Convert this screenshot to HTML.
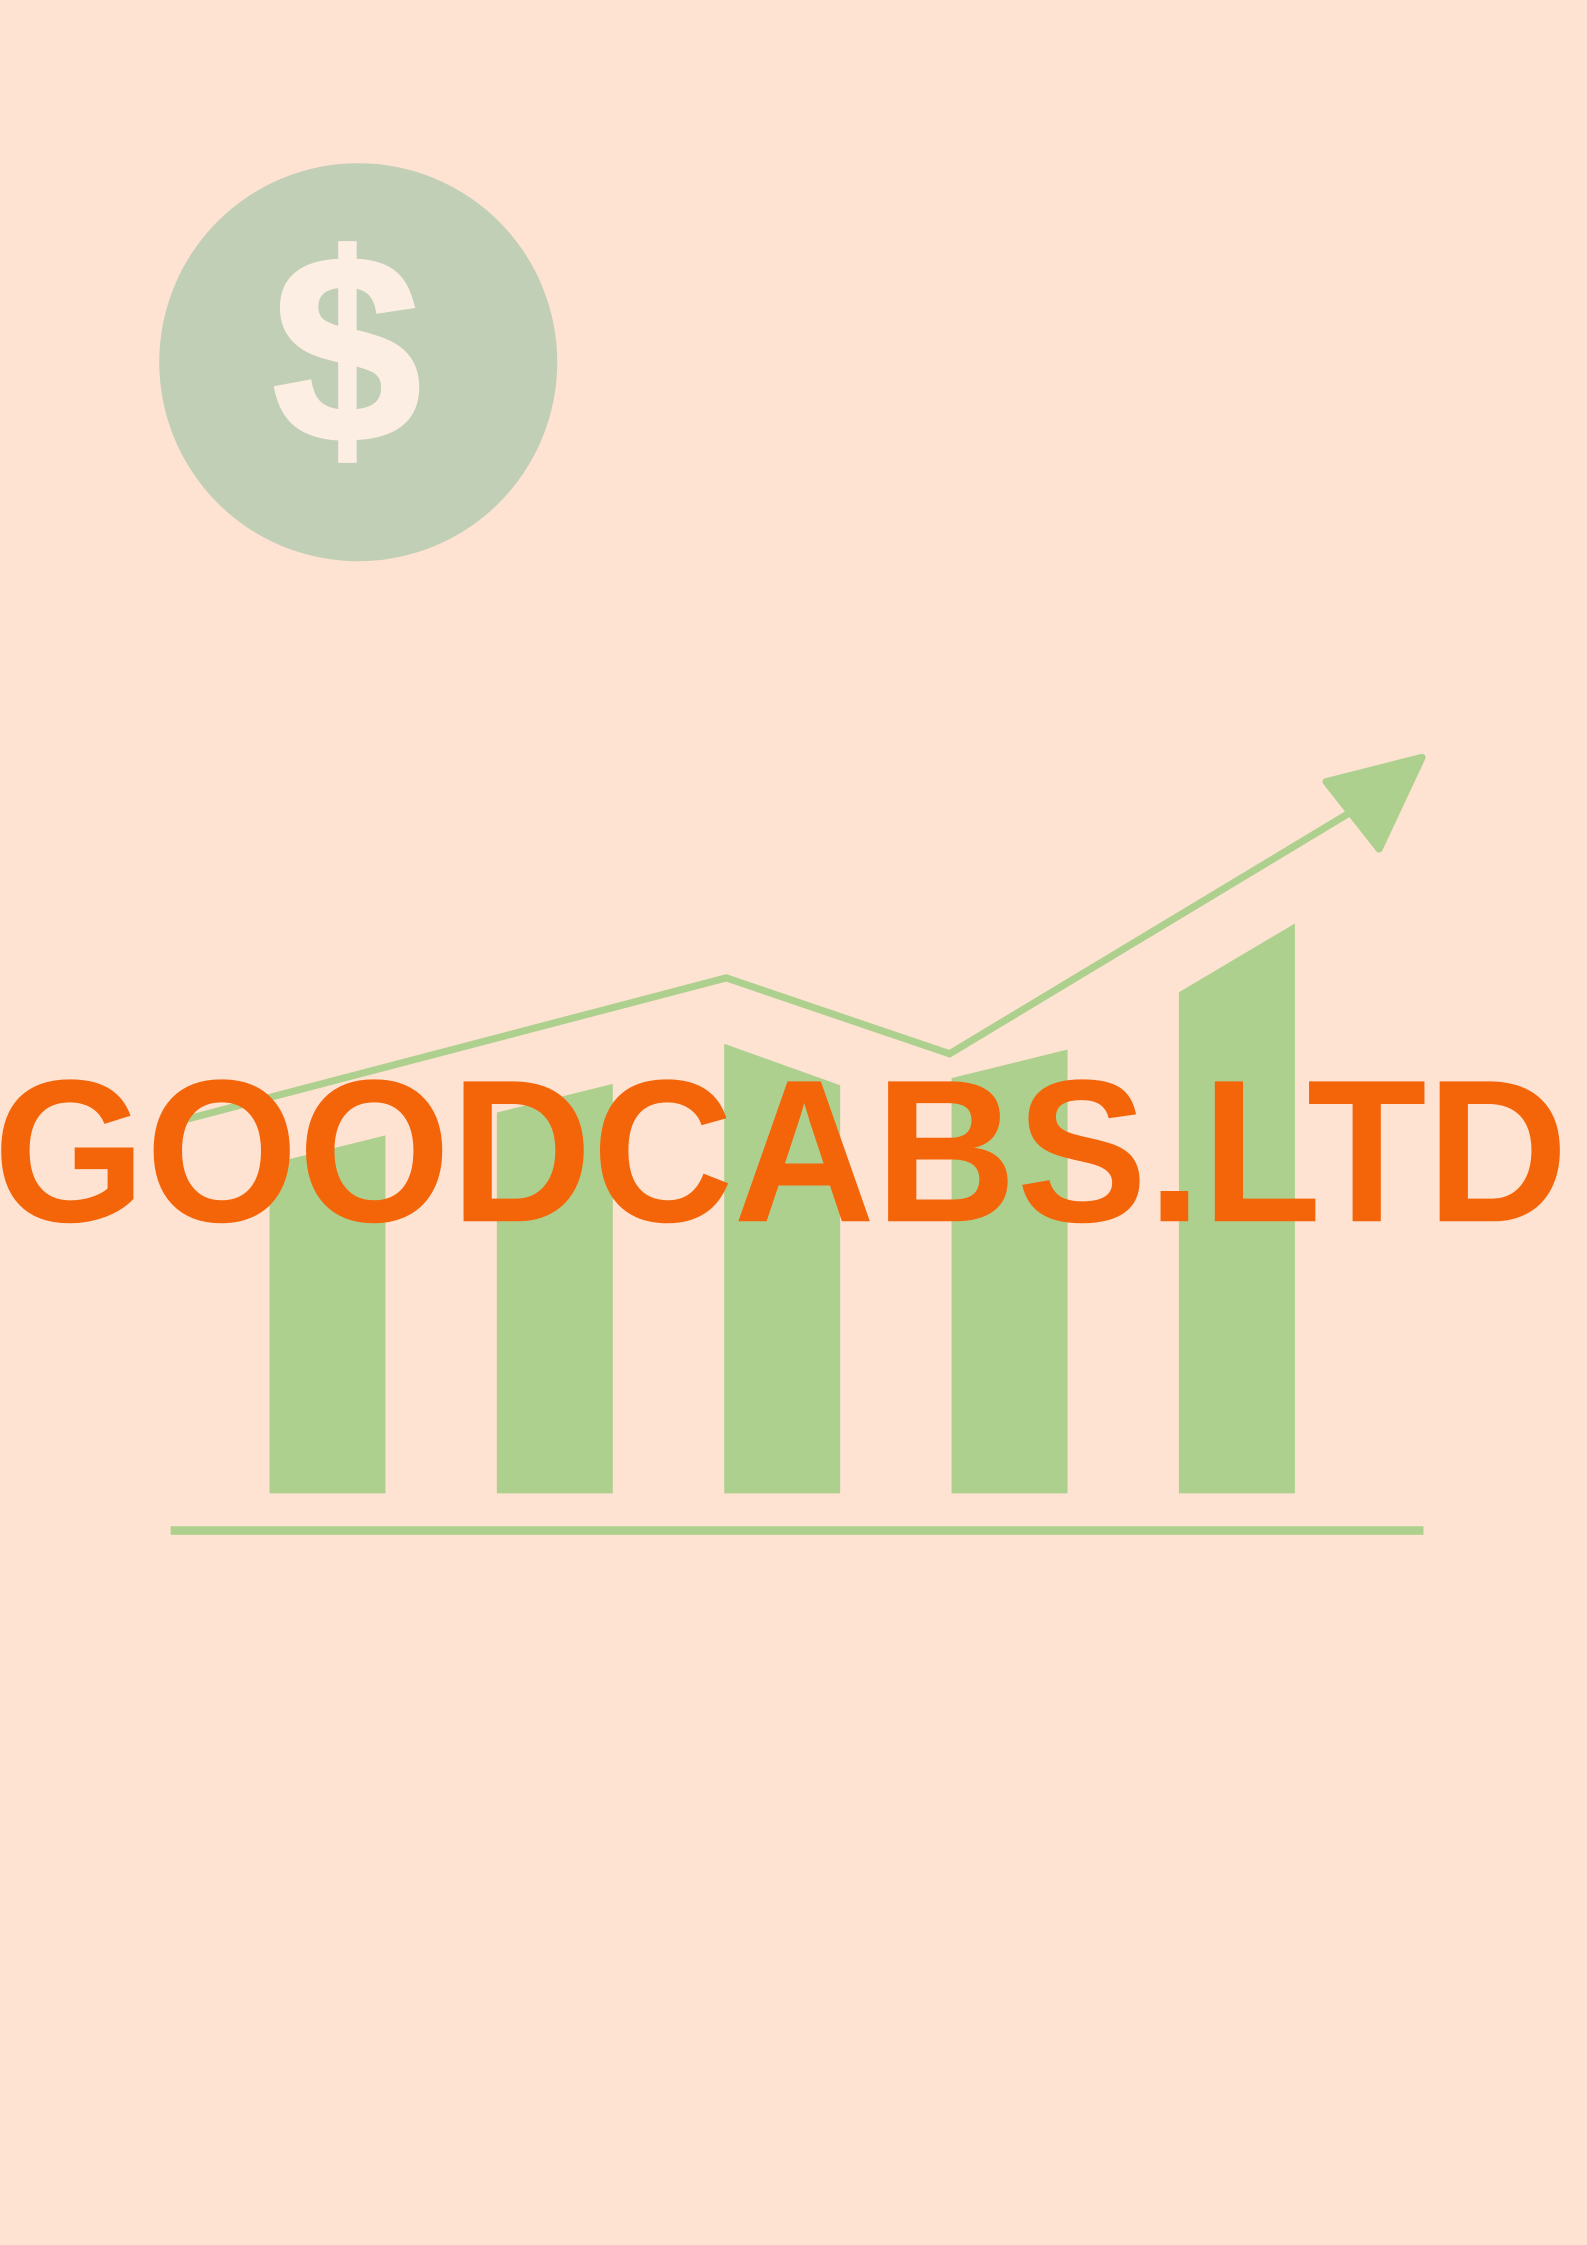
<!DOCTYPE html>
<html><head><meta charset="utf-8"><style>
html,body{margin:0;padding:0;background:#fee3d2;}
svg{display:block;}
</style></head><body>
<svg id="chart" width="1587" height="2245" viewBox="0 0 1108 1568" xmlns="http://www.w3.org/2000/svg">
<rect x="0" y="0" width="1108" height="1568" fill="#fee3d2"/>
<circle cx="250" cy="253" r="139" fill="#c0cfb6"/>
<text x="242" y="308" text-anchor="middle" font-family="Liberation Sans, sans-serif" font-weight="bold" font-size="186" fill="#fdeee3" stroke="#fdeee3" stroke-width="3">$</text>
<g id="bars"></g>
<rect x="119" y="1066" width="875" height="6" fill="#aed08e"/>
<polyline id="trend" fill="none" stroke="#aed08e" stroke-width="5" stroke-linejoin="miter"/>
<path d="M926 546 L993 529 L963 593 Z" fill="#aed08e" stroke="#aed08e" stroke-width="5" stroke-linejoin="round"/>
<text x="-5" y="853" textLength="1100" lengthAdjust="spacingAndGlyphs" font-family="Liberation Sans, sans-serif" font-weight="bold" font-size="142" fill="#f4650a">GOODCABS.LTD</text>
</svg>
<script>
const categories = ["b1","b2","b3","b4","b5"];
const barLeftValues = [230, 266, 314, 290, 350];
const barRightValues = [250, 286, 285, 310, 398];
const trendValues = [256, 360, 307, 475];
const trendX = [0, 1, 2, 3];
const base = 1043;
const yScale = v => base - v;
const barX = i => 188 + i * 158.8;
const barW = 81;
const lineX = i => [110, 507, 663, 942][i];
const ns = "http://www.w3.org/2000/svg";
const g = document.getElementById('bars');
categories.forEach((c, i) => {
  const x = barX(i);
  const p = document.createElementNS(ns, 'path');
  p.setAttribute('d', `M${x} ${base} L${x} ${yScale(barLeftValues[i])} L${x + barW} ${yScale(barRightValues[i])} L${x + barW} ${base} Z`);
  p.setAttribute('fill', '#aed08e');
  
  
  g.appendChild(p);
});
document.getElementById('trend').setAttribute('points', trendValues.map((v, i) => lineX(trendX[i]) + ',' + yScale(v)).join(' '));
</script>
</body></html>
